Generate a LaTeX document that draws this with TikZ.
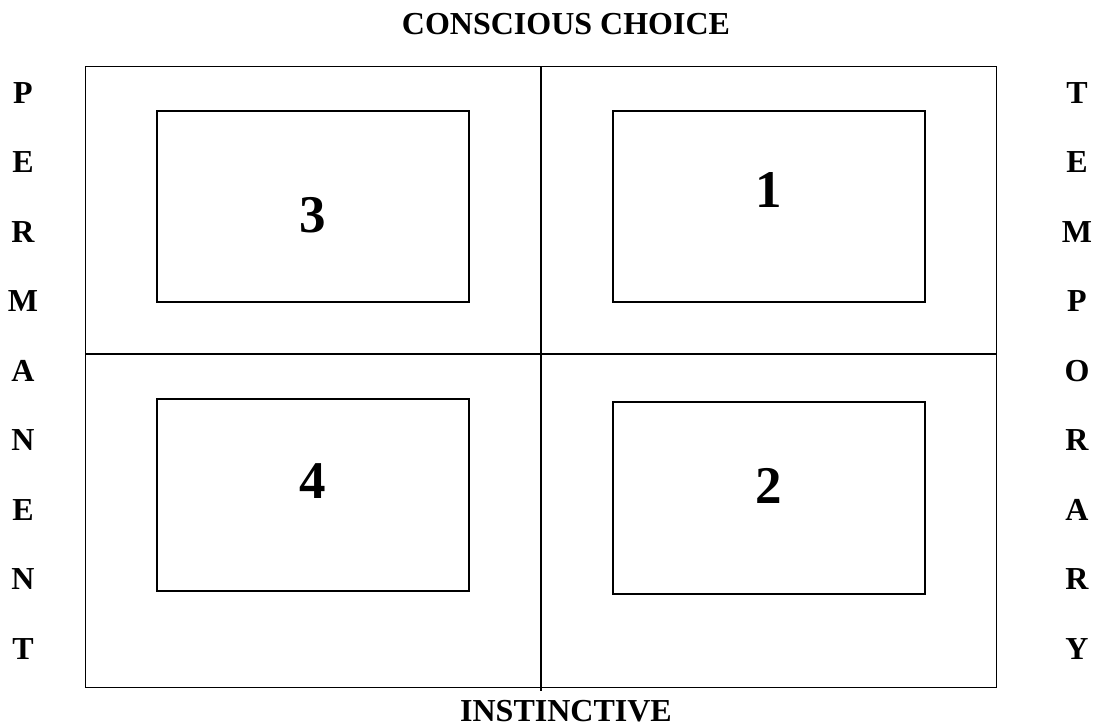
\documentclass[tikz,border=0pt]{standalone}
\usepackage{fontspec}
\setmainfont{Liberation Serif}
\begin{document}
\begin{tikzpicture}[x=1pt,y=-1pt,
  frame/.style={draw=black,line width=1.8pt,inner sep=0pt},
  rule/.style={line width=1.8pt},
  letter/.style={font=\fontsize{32}{32}\selectfont\bfseries,inner sep=0pt,anchor=base},
  num/.style={font=\fontsize{53}{53}\selectfont\bfseries,inner sep=0pt,anchor=center}]
\useasboundingbox (0,0) rectangle (1106,726);
% outer frame
\node[frame,minimum width=911pt,minimum height=621pt] (outer) at (541,377) {};
\coordinate (vtop) at (541,67);
\coordinate (vbot) at (541,691);
\coordinate (hl) at (86,354);
\coordinate (hr) at (997,354);
\draw[rule] (vtop) -- (vbot);
\draw[rule] (hl) -- (hr);
% inner boxes
\node[frame,minimum width=312pt,minimum height=191pt] (b3) at (313,206.5) {};
\node[frame,minimum width=312pt,minimum height=191pt] (b1) at (769,206.5) {};
\node[frame,minimum width=312pt,minimum height=192pt] (b4) at (313,495) {};
\node[frame,minimum width=312pt,minimum height=192pt] (b2) at (769,498) {};
% numbers
\node[num] (n3) at (313,215) {3};
\node[num] (n1) at (769,190) {1};
\node[num] (n4) at (313,481) {4};
\node[num] (n2) at (769,486) {2};
% titles
\node[letter] (top) at (566,34) {CONSCIOUS CHOICE};
\node[letter] (bot) at (566,721) {INSTINCTIVE};
% side letters
\foreach \c [count=\i from 0] in {P,E,R,M,A,N,E,N,T}
  \node[letter] (l\i) at (23,103+69.5*\i) {\c};
\foreach \c [count=\i from 0] in {T,E,M,P,O,R,A,R,Y}
  \node[letter] (r\i) at (1077,103+69.5*\i) {\c};
\end{tikzpicture}
\end{document}
